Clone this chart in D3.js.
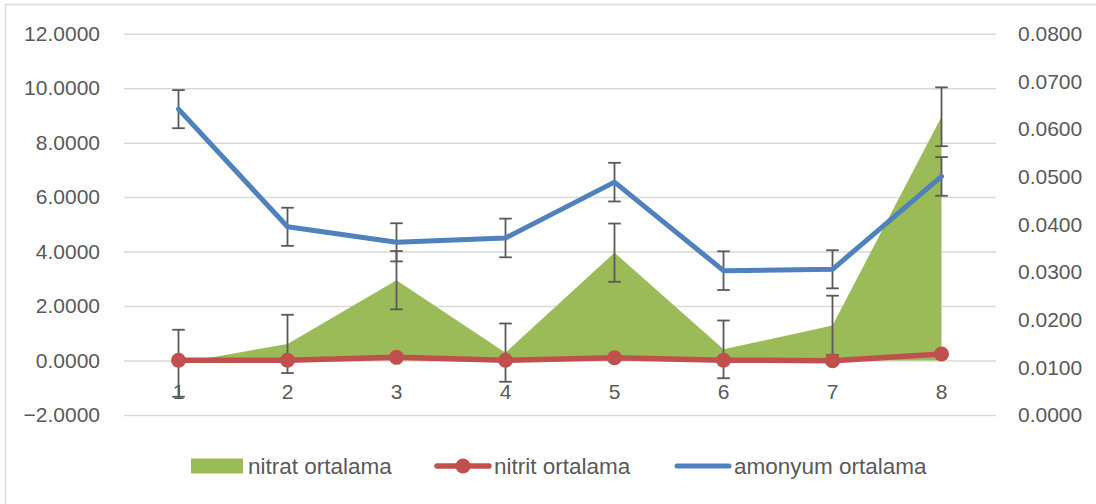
<!DOCTYPE html>
<html>
<head>
<meta charset="utf-8">
<script src="https://cdn.jsdelivr.net/npm/d3@7"></script>
<style>
  html, body { margin: 0; padding: 0; background: #fff; }
  svg { display: block; }
  text { font-family: "Liberation Sans", Arial, sans-serif; fill: #595959; }
</style>
</head>
<body>
<svg id="chart" width="1096" height="504"></svg>
<script>
const categories = ["1", "2", "3", "4", "5", "6", "7", "8"];
const nitrat = [-0.10, 0.61, 2.95, 0.29, 3.96, 0.41, 1.29, 8.95];
const nitratErr = [1.23, 1.07, 1.07, 1.07, 1.07, 1.06, 1.09, 1.08];
const amonyum = [9.23, 4.91, 4.34, 4.50, 6.55, 3.30, 3.35, 6.76];
const amonyumErr = [0.70, 0.70, 0.70, 0.71, 0.71, 0.71, 0.70, 0.71];
const nitrit = [0.0115, 0.0115, 0.0121, 0.0115, 0.0120, 0.0115, 0.0114, 0.0128];
const leftTicks = [-2, 0, 2, 4, 6, 8, 10, 12];
const rightTicks = [0, 0.01, 0.02, 0.03, 0.04, 0.05, 0.06, 0.07, 0.08];
const seriesNames = ["nitrat ortalama", "nitrit ortalama", "amonyum ortalama"];
const colors = { nitrat: "#9BBB59", nitrit: "#C0504D", amonyum: "#4F81BD", err: "#595959", grid: "#D9D9D9" };

const svg = d3.select("#chart");
const plotL = 124, plotR = 996, plotT = 33.7, plotB = 415;

// chart border (left/top visible)
svg.append("rect").attr("x", 5.5).attr("y", 4.5).attr("width", 1200).attr("height", 1000)
  .attr("fill", "none").attr("stroke", colors.grid).attr("stroke-width", 1.5);

const x = d3.scaleBand().domain(categories).range([plotL, plotR]);
const cx = c => x(c) + x.bandwidth() / 2;
const yL = d3.scaleLinear().domain([-2, 12]).range([plotB, plotT]);
const yR = d3.scaleLinear().domain([0, 0.08]).range([plotB, plotT]);

// left axis + gridlines
const gL = svg.append("g").attr("transform", `translate(${plotL},0)`)
  .call(d3.axisLeft(yL).tickValues(leftTicks).tickFormat(d3.format(".4f"))
    .tickSize(-(plotR - plotL)).tickPadding(24));
gL.select(".domain").remove();
gL.selectAll(".tick line").attr("stroke", colors.grid).attr("stroke-width", 1.5);
gL.selectAll(".tick text").attr("font-size", 21).style("font-family", '"Liberation Sans", Arial, sans-serif').attr("fill", "#595959");

// right axis
const gR = svg.append("g").attr("transform", `translate(${plotR},0)`)
  .call(d3.axisRight(yR).tickValues(rightTicks).tickFormat(d3.format(".4f"))
    .tickSize(0).tickPadding(22));
gR.select(".domain").remove();
gR.selectAll(".tick text").attr("font-size", 21).style("font-family", '"Liberation Sans", Arial, sans-serif').attr("fill", "#595959");

// nitrat area
const data = categories.map((c, i) => ({ c, nitrat: nitrat[i], ne: nitratErr[i], amonyum: amonyum[i], ae: amonyumErr[i], nitrit: nitrit[i] }));
svg.append("path").datum(data)
  .attr("fill", colors.nitrat)
  .attr("d", d3.area().x(d => cx(d.c)).y0(yL(0)).y1(d => yL(d.nitrat)));

// category axis at 0
const gX = svg.append("g").attr("transform", `translate(0,${yL(0)})`)
  .call(d3.axisBottom(x).tickSize(0).tickPadding(23.5));
gX.select(".domain").remove();
gX.selectAll(".tick text").attr("font-size", 21).style("font-family", '"Liberation Sans", Arial, sans-serif').attr("fill", "#595959");

// error bars helper
function errorBars(vals, errs, scale) {
  const g = svg.append("g").attr("stroke", colors.err).attr("stroke-width", 1.8).attr("fill", "none");
  categories.forEach((c, i) => {
    const X = cx(c), top = scale(vals[i] + errs[i]), bot = scale(vals[i] - errs[i]);
    g.append("line").attr("x1", X).attr("x2", X).attr("y1", top).attr("y2", bot);
    g.append("line").attr("x1", X - 6.3).attr("x2", X + 6.3).attr("y1", top).attr("y2", top);
    g.append("line").attr("x1", X - 6.3).attr("x2", X + 6.3).attr("y1", bot).attr("y2", bot);
  });
}
errorBars(nitrat, nitratErr, yL);
errorBars(amonyum, amonyumErr, yL);

// amonyum line
svg.append("path").datum(data)
  .attr("fill", "none").attr("stroke", colors.amonyum).attr("stroke-width", 5)
  .attr("stroke-linejoin", "round").attr("stroke-linecap", "round")
  .attr("d", d3.line().x(d => cx(d.c)).y(d => yL(d.amonyum)));

// nitrit line + markers (right axis)
svg.append("path").datum(data)
  .attr("fill", "none").attr("stroke", colors.nitrit).attr("stroke-width", 5.5)
  .attr("stroke-linejoin", "round").attr("stroke-linecap", "round")
  .attr("d", d3.line().x(d => cx(d.c)).y(d => yR(d.nitrit)));
svg.append("g").selectAll("circle").data(data).join("circle")
  .attr("cx", d => cx(d.c)).attr("cy", d => yR(d.nitrit)).attr("r", 7.5)
  .attr("fill", colors.nitrit);

// legend
const ly = 466;
const leg = svg.append("g");
leg.append("rect").attr("x", 191).attr("y", ly - 7.5).attr("width", 52).attr("height", 15).attr("fill", colors.nitrat);
leg.append("text").attr("x", 248).attr("y", ly).attr("dy", "0.35em").attr("font-size", 22.5).text(seriesNames[0]);
leg.append("line").attr("x1", 437).attr("x2", 489).attr("y1", ly).attr("y2", ly)
  .attr("stroke", colors.nitrit).attr("stroke-width", 5.5).attr("stroke-linecap", "round");
leg.append("circle").attr("cx", 463).attr("cy", ly).attr("r", 7.5).attr("fill", colors.nitrit);
leg.append("text").attr("x", 494).attr("y", ly).attr("dy", "0.35em").attr("font-size", 22.5).text(seriesNames[1]);
leg.append("line").attr("x1", 677).attr("x2", 729).attr("y1", ly).attr("y2", ly)
  .attr("stroke", colors.amonyum).attr("stroke-width", 5).attr("stroke-linecap", "round");
leg.append("text").attr("x", 734).attr("y", ly).attr("dy", "0.35em").attr("font-size", 22.5).text(seriesNames[2]);
</script>
</body>
</html>
